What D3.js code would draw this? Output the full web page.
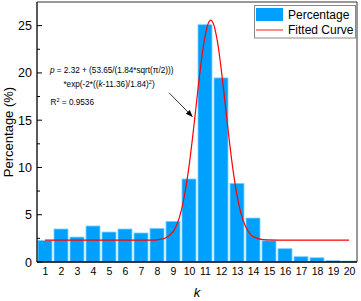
<!DOCTYPE html>
<html>
<head>
<meta charset="utf-8">
<style>
body { margin: 0; background: #fff; }
text { font-family: Arial, "Liberation Sans", sans-serif; fill: #000; }
</style>
</head>
<body>
<script src="https://cdn.jsdelivr.net/npm/d3@7"></script>
<script>

// bar data
var kValues = [1, 2, 3, 4, 5, 6, 7, 8, 9, 10, 11, 12, 13, 14, 15, 16, 17, 18, 19, 20];
var percentage = [2.28, 3.49, 2.64, 3.81, 3.17, 3.49, 3.07, 3.56, 4.3, 8.78,
                  25.1, 19.47, 8.32, 4.65, 2.25, 1.41, 0.56, 0.45, 0.14, 0.1];

// fitted curve samples
var curveK = [1, 2, 3, 4, 5, 6, 7, 8, 8.5, 9, 9.25, 9.5, 9.75, 10, 10.25, 10.5, 10.75, 11,
              11.25, 11.36, 11.5, 11.75, 12, 12.25, 12.5, 12.75, 13, 13.25, 13.5, 13.75,
              14, 14.5, 15, 16, 17, 18, 19, 20];
var curveP = [2.32, 2.32, 2.32, 2.32, 2.32, 2.32, 2.32, 2.35, 2.51, 3.19, 4.0, 5.33, 7.35, 10.12,
              13.55, 17.35, 20.99, 23.87, 25.41, 25.58, 25.31, 23.58, 20.58, 16.89, 13.12,
              9.75, 7.07, 5.14, 3.88, 3.12, 2.7, 2.39, 2.33, 2.32, 2.32, 2.32, 2.32, 2.32];

var yTicks = [0, 5, 10, 15, 20, 25];
var yMinorTicks = [2.5, 7.5, 12.5, 17.5, 22.5];

var W = 361, H = 301;
var plotL = 37, plotR = 357, plotT = 2, plotB = 262;

var svg = d3.select("body").append("svg")
    .attr("width", W)
    .attr("height", H);

var x = d3.scaleLinear().domain([0.5, 20.5]).range([plotL, plotR]);
var y = d3.scaleLinear().domain([0, 27.5]).range([plotB, plotT]);

// bars
var barW = 14;
svg.append("g").selectAll("rect")
    .data(kValues)
  .enter().append("rect")
    .attr("x", function(d) { return x(d) - barW / 2; })
    .attr("width", barW)
    .attr("y", function(d, i) { return y(percentage[i]); })
    .attr("height", function(d, i) { return y(0) - y(percentage[i]); })
    .style("fill", "#00a0ff")
    .style("stroke", "#7fd0ff")
    .style("stroke-width", 0.8);

// fitted curve
var line = d3.line()
    .x(function(d, i) { return x(curveK[i]); })
    .y(function(d) { return y(d); })
    .curve(d3.curveCatmullRom);

svg.append("path")
    .datum(curveP)
    .attr("d", line)
    .style("fill", "none")
    .style("stroke", "#ff0000")
    .style("stroke-width", 1.2);

// frame
svg.append("path")
    .attr("d", "M" + plotL + "," + plotT + "H" + plotR + "V" + plotB)
    .style("fill", "none")
    .style("stroke", "#333")
    .style("stroke-width", 1);

// y axis
var yAxis = d3.axisLeft(y).tickValues(yTicks).tickSize(0).tickPadding(5);
var gy = svg.append("g")
    .attr("transform", "translate(" + plotL + ",0)")
    .call(yAxis);
gy.select(".domain").remove();
gy.selectAll("text").style("font-size", "12.5px").style("fill", "#000")
    .style("font-family", "Arial, 'Liberation Sans', sans-serif");

svg.append("g").selectAll("line")
    .data(yTicks)
  .enter().append("line")
    .attr("x1", plotL).attr("x2", plotL + 5)
    .attr("y1", function(d) { return y(d); })
    .attr("y2", function(d) { return y(d); })
    .style("stroke", "#000");

svg.append("g").selectAll("line")
    .data(yMinorTicks)
  .enter().append("line")
    .attr("x1", plotL).attr("x2", plotL + 3)
    .attr("y1", function(d) { return y(d); })
    .attr("y2", function(d) { return y(d); })
    .style("stroke", "#000");

svg.append("line")
    .attr("x1", plotL).attr("x2", plotL)
    .attr("y1", plotT).attr("y2", plotB)
    .style("stroke", "#000")
    .style("stroke-width", 1.3);

// x axis
var xAxis = d3.axisBottom(x).tickValues(kValues).tickSize(0).tickPadding(6);
var gx = svg.append("g")
    .attr("transform", "translate(0," + plotB + ")")
    .call(xAxis);
gx.select(".domain").remove();
gx.selectAll("text").style("font-size", "10.5px").style("fill", "#000")
    .style("font-family", "Arial, 'Liberation Sans', sans-serif");

svg.append("line")
    .attr("x1", plotL).attr("x2", plotR)
    .attr("y1", plotB).attr("y2", plotB)
    .style("stroke", "#000")
    .style("stroke-width", 1.6);

// axis titles
svg.append("text")
    .attr("x", (plotL + plotR) / 2)
    .attr("y", 297)
    .attr("text-anchor", "middle")
    .style("font-size", "13px")
    .style("font-style", "italic")
    .text("k");

svg.append("text")
    .attr("transform", "translate(13," + (plotT + plotB) / 2 + ") rotate(-90)")
    .attr("text-anchor", "middle")
    .style("font-size", "13px")
    .text("Percentage (%)");

// annotation
var ann = svg.append("g").style("font-size", "8.2px").style("fill", "#111");
var t1 = ann.append("text").attr("x", x(1.31)).attr("y", y(20.04));
t1.append("tspan").style("font-style", "italic").text("p");
t1.append("tspan").text(" = 2.32 + (53.65/(1.84*sqrt(\u03c0/2)))");

var t2 = ann.append("text").attr("x", x(2.15)).attr("y", y(18.46));
t2.append("tspan").text("*exp(-2*((");
t2.append("tspan").style("font-style", "italic").text("k");
t2.append("tspan").text("-11.36)/1.84)");
t2.append("tspan").attr("dy", -3.3).style("font-size", "5.5px").text("2");
t2.append("tspan").attr("dy", 3.3).text(")");

var t3 = ann.append("text").attr("x", x(1.35)).attr("y", y(16.6));
t3.append("tspan").text("R");
t3.append("tspan").attr("dy", -3.3).style("font-size", "5.5px").text("2");
t3.append("tspan").attr("dy", 3.3).text(" = 0.9536");

// arrow
svg.append("defs").append("marker")
    .attr("id", "ah")
    .attr("viewBox", "0 0 10 10")
    .attr("refX", 9).attr("refY", 5)
    .attr("markerWidth", 7).attr("markerHeight", 7)
    .attr("markerUnits", "userSpaceOnUse")
    .attr("orient", "auto")
  .append("path")
    .attr("d", "M0,1L10,5L0,9Z")
    .style("fill", "#000");

svg.append("line")
    .attr("x1", x(8.75)).attr("y1", y(17.9))
    .attr("x2", x(10.2)).attr("y2", y(15.4))
    .attr("marker-end", "url(#ah)")
    .style("stroke", "#000")
    .style("stroke-width", 0.8);

// legend
var lg = svg.append("g");
lg.append("rect")
    .attr("x", 254.5).attr("y", 5.5)
    .attr("width", 101).attr("height", 32.5)
    .style("fill", "#fff")
    .style("stroke", "#888");
lg.append("rect")
    .attr("x", 256).attr("y", 8)
    .attr("width", 27).attr("height", 13)
    .style("fill", "#00a0ff");
lg.append("line")
    .attr("x1", 256).attr("x2", 283)
    .attr("y1", 30).attr("y2", 30)
    .style("stroke", "#ff5050")
    .style("stroke-width", 1.3);
lg.append("text")
    .attr("x", 288).attr("y", 15).attr("dy", "0.35em")
    .style("font-size", "12px")
    .text("Percentage");
lg.append("text")
    .attr("x", 288).attr("y", 30).attr("dy", "0.35em")
    .style("font-size", "12px")
    .text("Fitted Curve");

</script>
</body>
</html>
